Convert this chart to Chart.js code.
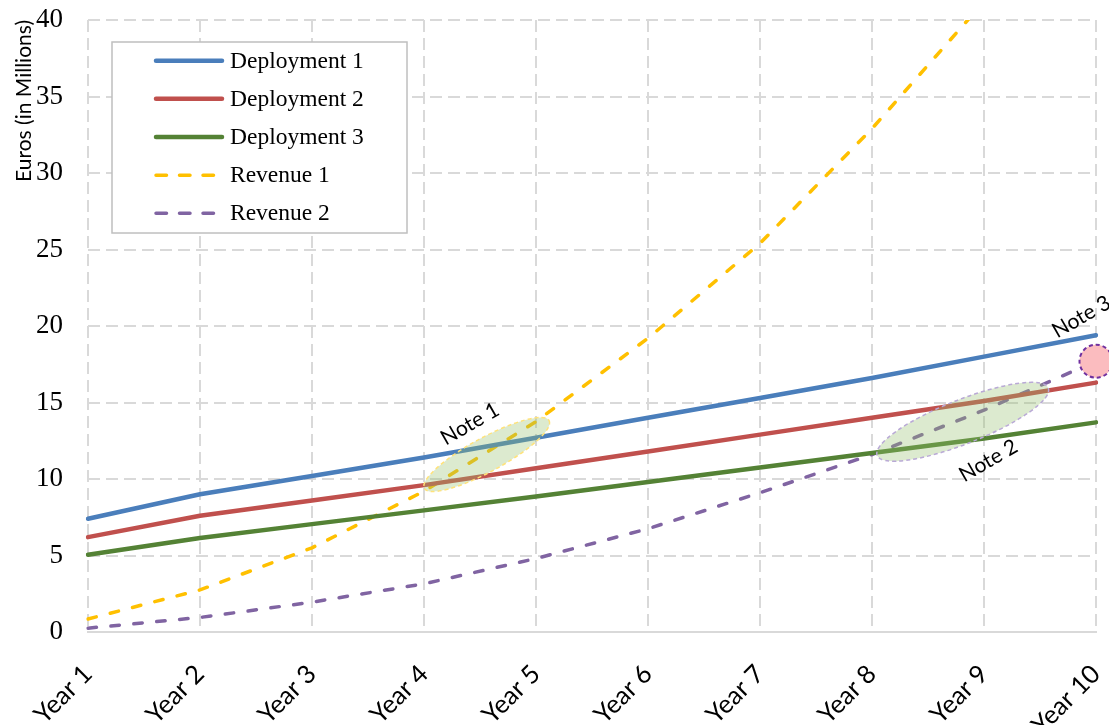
<!DOCTYPE html>
<html>
<head>
<meta charset="utf-8">
<title>Deployment costs and revenue</title>
<script src="https://cdn.jsdelivr.net/npm/chart.js@4/dist/chart.umd.min.js"></script>
<style>
  html, body { margin: 0; padding: 0; background: #ffffff; }
  canvas { display: block; }
</style>
</head>
<body>
<canvas id="chart" width="1109" height="725"></canvas>
<script>
// Ten-year projection, values in millions of euros
const years = ['Year 1', 'Year 2', 'Year 3', 'Year 4', 'Year 5', 'Year 6', 'Year 7', 'Year 8', 'Year 9', 'Year 10'];
const deployment1 = [7.4, 9.0, 10.2, 11.4, 12.7, 14.0, 15.3, 16.6, 18.0, 19.4];
const deployment2 = [6.2, 7.6, 8.6, 9.6, 10.7, 11.8, 12.9, 14.0, 15.1, 16.3];
const deployment3 = [5.05, 6.15, 7.05, 7.95, 8.85, 9.8, 10.75, 11.7, 12.65, 13.7];
const revenue1 = [0.85, 2.75, 5.5, 9.2, 13.75, 19.2, 25.4, 32.9, 41.2, 50.4];
const revenue2 = [0.25, 0.95, 1.95, 3.15, 4.8, 6.75, 9.1, 11.6, 14.5, 17.7];
const yTicks = [0, 5, 10, 15, 20, 25, 30, 35, 40];

// Callouts, anchored in data space (x = fractional category index, y = value)
const noteLabels = ['Note 1', 'Note 2', 'Note 3'];
const noteX = [3.41, 8.04, 8.87];
const noteY = [13.6, 11.2, 20.6];
const ellipseX = [3.56, 7.81];
const ellipseY = [11.6, 13.74];
const markerX = 9;
const markerY = 17.7;

const SERIF = '"Liberation Serif", "Times New Roman", serif';
const SANS = 'Lato, "Open Sans", sans-serif';
const GRID = '#d9d9d9';

const lineDash = [8.5, 14.5];

const calloutPlugin = {
  id: 'callouts',
  afterDatasetsDraw(chart) {
    const { ctx, scales: { x, y } } = chart;
    const ellipseStyle = [
      { rx: 71, ry: 17, angle: -28.5, fill: 'rgba(150,190,110,0.33)', stroke: '#ffe27a' },
      { rx: 92, ry: 22, angle: -21.5, fill: 'rgba(150,190,110,0.33)', stroke: '#b9a9d6' }
    ];
    ctx.save();
    ellipseX.forEach((v, i) => {
      const s = ellipseStyle[i];
      ctx.beginPath();
      ctx.ellipse(x.getPixelForValue(v), y.getPixelForValue(ellipseY[i]), s.rx, s.ry, s.angle * Math.PI / 180, 0, Math.PI * 2);
      ctx.fillStyle = s.fill;
      ctx.fill();
      ctx.setLineDash([4, 3]);
      ctx.lineWidth = 1.5;
      ctx.strokeStyle = s.stroke;
      ctx.stroke();
    });
    // highlighted end point
    ctx.beginPath();
    ctx.arc(x.getPixelForValue(markerX), y.getPixelForValue(markerY), 16.5, 0, Math.PI * 2);
    ctx.fillStyle = '#fbbcbf';
    ctx.fill();
    ctx.setLineDash([4, 3]);
    ctx.lineWidth = 2;
    ctx.strokeStyle = '#7030a0';
    ctx.stroke();
    ctx.setLineDash([]);

    ctx.fillStyle = '#000000';
    ctx.font = '21px ' + SANS;
    ctx.textAlign = 'center';
    ctx.textBaseline = 'middle';
    noteLabels.forEach((t, i) => {
      ctx.save();
      ctx.translate(x.getPixelForValue(noteX[i]), y.getPixelForValue(noteY[i]));
      ctx.rotate(-30 * Math.PI / 180);
      ctx.fillText(t, 0, 0);
      ctx.restore();
    });
    ctx.restore();
  },
  afterDraw(chart) {
    // boxed legend inside the plot area
    const { ctx } = chart;
    const box = { x: 112, y: 42, w: 295, h: 191 };
    ctx.save();
    ctx.fillStyle = '#ffffff';
    ctx.fillRect(box.x, box.y, box.w, box.h);
    ctx.lineWidth = 1.5;
    ctx.strokeStyle = '#bfbfbf';
    ctx.strokeRect(box.x, box.y, box.w, box.h);
    ctx.font = '23.5px ' + SERIF;
    ctx.textAlign = 'left';
    ctx.textBaseline = 'middle';
    chart.data.datasets.forEach((ds, i) => {
      const cy = 60.7 + i * 38.15;
      ctx.beginPath();
      ctx.moveTo(156, cy);
      ctx.lineTo(222, cy);
      ctx.lineWidth = ds.borderWidth;
      ctx.strokeStyle = ds.borderColor;
      ctx.lineCap = 'round';
      ctx.setLineDash(ds.borderDash && ds.borderDash.length ? [10.5, 13] : []);
      ctx.stroke();
      ctx.setLineDash([]);
      ctx.fillStyle = '#000000';
      ctx.fillText(ds.label, 230, cy + 1);
    });
    ctx.restore();
  }
};

const solid = (label, data, color) => ({
  label, data, borderColor: color, backgroundColor: color,
  borderWidth: 4.5, pointRadius: 0, tension: 0, fill: false, borderCapStyle: 'round', borderJoinStyle: 'round'
});
const dashed = (label, data, color) => ({
  label, data, borderColor: color, backgroundColor: color,
  borderWidth: 3.5, borderDash: lineDash, pointRadius: 0, tension: 0, fill: false, borderCapStyle: 'round'
});

new Chart(document.getElementById('chart'), {
  type: 'line',
  data: {
    labels: years,
    datasets: [
      solid('Deployment 1', deployment1, '#4a7ebb'),
      solid('Deployment 2', deployment2, '#c0504d'),
      solid('Deployment 3', deployment3, '#548235'),
      dashed('Revenue 1', revenue1, '#ffc000'),
      dashed('Revenue 2', revenue2, '#8064a2')
    ]
  },
  options: {
    responsive: false,
    animation: false,
    devicePixelRatio: 1,
    layout: { padding: { top: 20, right: 13, left: 0, bottom: 0 } },
    plugins: { legend: { display: false }, tooltip: { enabled: false } },
    scales: {
      x: {
        type: 'category',
        offset: false,
        grid: { color: GRID, lineWidth: 2, drawTicks: false },
        border: { display: true, color: GRID, width: 2, dash: [12, 6] },
        ticks: {
          autoSkip: false, maxRotation: 45, minRotation: 45, padding: 27,
          color: '#000000', font: { family: SANS, size: 25.5 }
        },
        afterFit(s) { s.height = 93; s.paddingLeft = 0; s.paddingRight = 0; }
      },
      y: {
        min: 0, max: 40,
        afterBuildTicks(s) { s.ticks = yTicks.map(v => ({ value: v })); },
        grid: { color: GRID, lineWidth: 2, drawTicks: false },
        border: { display: false, dash: [12, 6] },
        ticks: { padding: 25, color: '#000000', font: { family: SERIF, size: 27 } },
        title: {
          display: true, text: 'Euros (in Millions)', align: 'end',
          color: '#000000', font: { family: SANS, size: 21 }, padding: { top: 12, bottom: 0 }
        },
        afterFit(s) { s.width = 88; s.paddingTop = 0; s.paddingBottom = 0; }
      }
    }
  },
  plugins: [calloutPlugin]
});
</script>
</body>
</html>
